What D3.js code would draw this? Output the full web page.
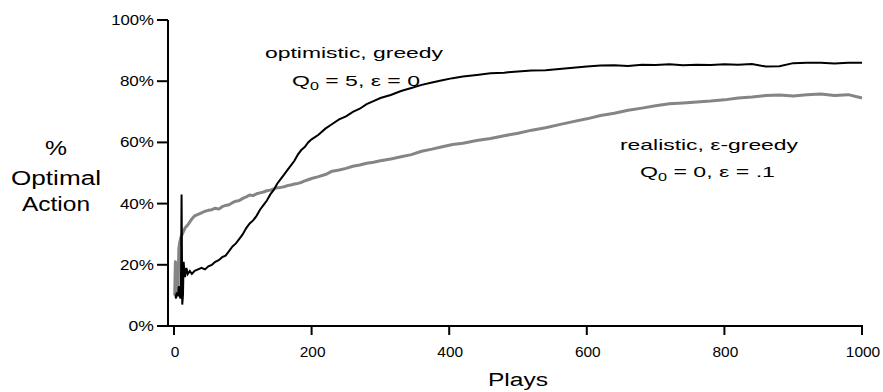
<!DOCTYPE html>
<html><head><meta charset="utf-8">
<script src="https://cdn.jsdelivr.net/npm/d3@7/dist/d3.min.js"></script>
<style>
html,body{margin:0;padding:0;background:#fff;}
svg text{font-family:"Liberation Sans",Arial,Helvetica,sans-serif;fill:#000;}
</style></head>
<body>
<svg id="chart" width="883" height="392"></svg>
<script>
// ---- data ----
const plays = [1,2,3,4,5,6,7,8,9,10,11,12,13,14,15,16,18,20,23,26,30,35,
  40,45,50,55,60,65,70,75,80,85,90,95,100,105,110,115,120,125,130,135,140,145,150,155,160,165,170,175,180,185,190,195,200,
  210,220,230,240,250,260,270,280,290,300,
  315,330,345,360,375,390,405,420,
  440,460,480,500,520,540,560,580,600,620,640,660,680,700,720,740,760,780,800,820,840,860,880,900,920,940,960,980,1000];

const optimisticGreedy = [10,10,9,11,10,10,13,12,9,10,43,7,10,21,18,16,19,17,18,17,18,18.5,
  19,18.5,19.5,20,21,21.5,22.5,23,24.5,26,27,28.5,30,32,33.5,34.5,36,38,39.5,41,43,44.5,46.5,48,49.5,51,52.5,54,56,57.5,58.5,60,61,
  62.5,64.5,66,67.5,68.5,70,71,72.5,73.5,74.5,
  75.5,76.8,77.8,78.8,79.6,80.3,81,81.5,
  82,82.6,82.8,83.2,83.5,83.6,84,84.4,84.8,85.1,85.2,85,85.4,85.3,85.5,85.2,85.4,85.3,85.5,85.4,85.6,84.8,84.9,85.9,86,86,85.8,86,86];

const realisticEpsGreedy = [10,21,20,11,12,12,25,27,28,29,29.5,30,30.5,31,31.5,32,32.5,33,34,35,36,36.5,
  37,37.5,37.8,38,38.5,38.2,39,39.4,39.6,40.3,40.8,41,41.7,42.2,42.8,42.6,43.2,43.5,43.8,44.2,44.4,44.8,45.2,45.3,45.5,45.9,46.1,46.4,46.6,46.9,47.4,47.8,48.2,
  48.8,49.5,50.6,51,51.5,52.2,52.6,53.2,53.5,54,
  54.6,55.3,56,57.1,57.8,58.6,59.3,59.7,
  60.6,61.3,62.2,63,64,64.8,65.8,66.8,67.7,68.8,69.5,70.5,71.2,72,72.6,72.9,73.2,73.5,73.9,74.5,74.8,75.3,75.5,75.2,75.6,75.8,75.3,75.6,74.5];

const xTicks = [0,200,400,600,800,1000];
const yTicks = [0,20,40,60,80,100];
const yTickLabels = ["0%","20%","40%","60%","80%","100%"];
const xTitle = "Plays";
const yTitleLines = ["%","Optimal","Action"];

// ---- drawing ----
const svg = d3.select("#chart");
const x = d3.scaleLinear().domain([0,1000]).range([174,862]);
const y = d3.scaleLinear().domain([0,100]).range([326,20]);

// axes lines
svg.append("line").attr("x1",168).attr("x2",168).attr("y1",y(100)).attr("y2",y(0)+1)
  .attr("stroke","#000").attr("stroke-width",2);
svg.append("line").attr("x1",167).attr("x2",x(1000)+1).attr("y1",y(0)).attr("y2",y(0))
  .attr("stroke","#000").attr("stroke-width",2);

// y ticks
const yg = svg.append("g");
yTicks.forEach((t,i)=>{
  yg.append("line").attr("x1",157).attr("x2",168).attr("y1",y(t)).attr("y2",y(t))
    .attr("stroke","#000").attr("stroke-width",2);
  const lab = yTickLabels[i];
  yg.append("text").attr("x",154).attr("y",y(t)+5).attr("text-anchor","end")
    .attr("font-size",14).attr("textLength",8.7*lab.length+8).attr("lengthAdjust","spacingAndGlyphs")
    .text(lab);
});
// x ticks
const xg = svg.append("g");
xTicks.forEach(t=>{
  xg.append("line").attr("x1",x(t)).attr("x2",x(t)).attr("y1",y(0)).attr("y2",y(0)+9)
    .attr("stroke","#000").attr("stroke-width",2);
  const lab = String(t);
  xg.append("text").attr("x",x(t)+1).attr("y",357).attr("text-anchor","middle")
    .attr("font-size",15).attr("textLength",8.6*lab.length).attr("lengthAdjust","spacingAndGlyphs")
    .text(lab);
});

// titles
svg.append("text").attr("x",518).attr("y",386).attr("text-anchor","middle")
  .attr("font-size",18).attr("textLength",60).attr("lengthAdjust","spacingAndGlyphs").text(xTitle);
const yt = [[155,22],[185,90],[211,68]];
yTitleLines.forEach((s,i)=>{
  svg.append("text").attr("x",56).attr("y",yt[i][0]).attr("text-anchor","middle")
    .attr("font-size",20).attr("textLength",yt[i][1]).attr("lengthAdjust","spacingAndGlyphs").text(s);
});

// lines
const line = d3.line().x(d=>x(d[0])).y(d=>y(d[1]));
svg.append("path").datum(plays.map((p,i)=>[p,realisticEpsGreedy[i]]))
  .attr("d",line).attr("fill","none").attr("stroke","#858585").attr("stroke-width",3).attr("stroke-linejoin","round");
svg.append("path").datum(plays.map((p,i)=>[p,optimisticGreedy[i]]))
  .attr("d",line).attr("fill","none").attr("stroke","#000").attr("stroke-width",2).attr("stroke-linejoin","miter");

// annotations
function ann(xc, yb, parts, len, size){
  const t = svg.append("text").attr("x",xc).attr("y",yb).attr("text-anchor","start")
    .attr("font-size",size).attr("textLength",len).attr("lengthAdjust","spacingAndGlyphs");
  parts.forEach(p=>{
    const s = t.append("tspan").text(p.t);
    if(p.sub) s.attr("font-size",size*0.7).attr("dy",4);
    if(p.up) s.attr("dy",-4);
  });
}
ann(265,58,[{t:"optimistic, greedy"}],178,15);
ann(292,86,[{t:"Q"},{t:"0",sub:true},{t:" = 5, ε = 0",up:true}],128,15);
ann(620,150,[{t:"realistic, ε-greedy"}],178,15);
ann(640,177,[{t:"Q"},{t:"0",sub:true},{t:" = 0, ε = .1",up:true}],135,15);
</script>
</body></html>
